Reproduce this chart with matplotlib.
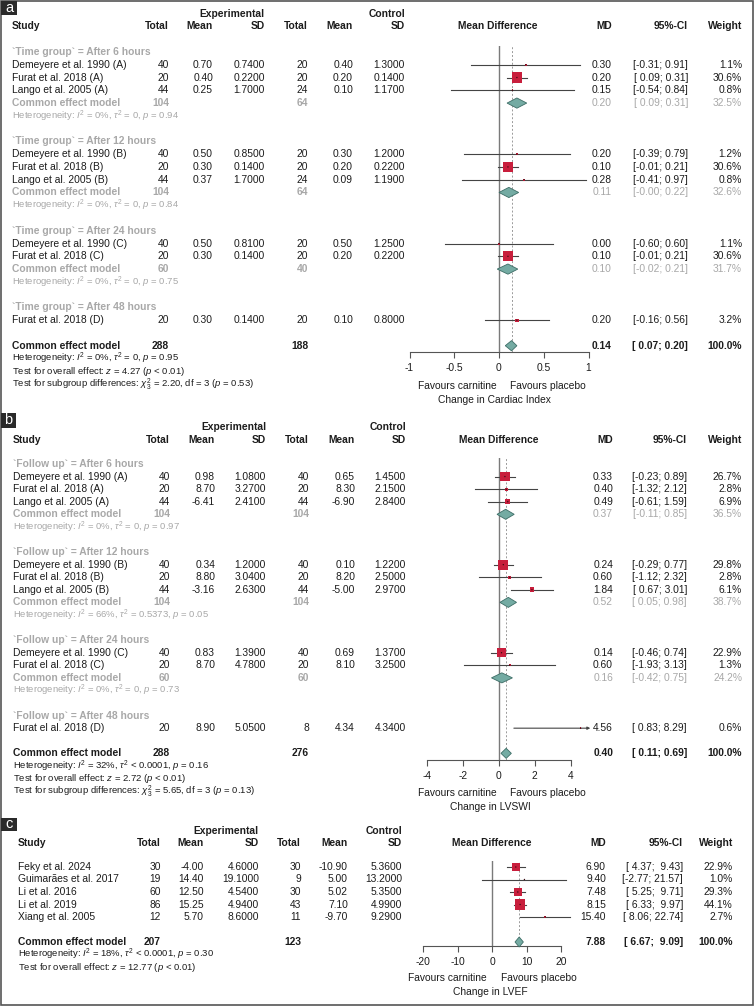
import numpy as np
import matplotlib
matplotlib.use("Agg")
import matplotlib.pyplot as plt
from matplotlib.patches import Polygon, Rectangle

plt.rcParams['font.family'] = ['Liberation Sans', 'DejaVu Sans']
plt.rcParams['mathtext.fontset'] = 'custom'
plt.rcParams['mathtext.rm'] = 'Liberation Sans'
plt.rcParams['mathtext.it'] = 'Liberation Sans:italic'
plt.rcParams['mathtext.bf'] = 'Liberation Sans:bold'
plt.rcParams['axes.unicode_minus'] = False

# ---------------- DATA: panel a (Cardiac Index) ----------------
studies_a = ["Demeyere et al. 1990 (A)", "Furat et al. 2018 (A)", "Lango et al. 2005 (A)",
             "Demeyere et al. 1990 (B)", "Furat et al. 2018 (B)", "Lango et al. 2005 (B)",
             "Demeyere et al. 1990 (C)", "Furat et al. 2018 (C)",
             "Furat et al. 2018 (D)"]
group_a = [0, 0, 0, 1, 1, 1, 2, 2, 3]
groups_a = ["After 6 hours", "After 12 hours", "After 24 hours", "After 48 hours"]
exp_n_a = [40, 20, 44, 40, 20, 44, 40, 20, 20]
exp_mean_a = [0.70, 0.40, 0.25, 0.50, 0.30, 0.37, 0.50, 0.30, 0.30]
exp_sd_a = [0.74, 0.22, 1.70, 0.85, 0.14, 1.70, 0.81, 0.14, 0.14]
ctl_n_a = [20, 20, 24, 20, 20, 24, 20, 20, 20]
ctl_mean_a = [0.40, 0.20, 0.10, 0.30, 0.20, 0.09, 0.50, 0.20, 0.10]
ctl_sd_a = [1.30, 0.14, 1.17, 1.20, 0.22, 1.19, 1.25, 0.22, 0.80]
md_a = [0.30, 0.20, 0.15, 0.20, 0.10, 0.28, 0.00, 0.10, 0.20]
lo_a = [-0.31, 0.09, -0.54, -0.39, -0.01, -0.41, -0.60, -0.01, -0.16]
hi_a = [0.91, 0.31, 0.84, 0.79, 0.21, 0.97, 0.60, 0.21, 0.56]
w_a = [1.1, 30.6, 0.8, 1.2, 30.6, 0.8, 1.1, 30.6, 3.2]
sub_md_a = [0.20, 0.11, 0.10]
sub_lo_a = [0.09, -0.0, -0.02]
sub_hi_a = [0.31, 0.22, 0.21]
sub_w_a = [32.5, 32.6, 31.7]
sub_ne_a = [104, 104, 60]
sub_nc_a = [64, 64, 40]
sub_i2_a = ["0%", "0%", "0%"]
sub_tau_a = ["= 0", "= 0", "= 0"]
sub_p_a = ["0.94", "0.84", "0.75"]
ov_a = dict(md=0.14, lo=0.07, hi=0.20, ne=288, nc=188, i2="0%", tau="= 0", p="0.95",
            z="4.27", zp="< 0.01", chi="2.20", df="3", chip="0.53")

# ---------------- DATA: panel b (LVSWI) ----------------
studies_b = ["Demeyere et al. 1990 (A)", "Furat el al. 2018 (A)", "Lango et al. 2005 (A)",
             "Demeyere et al. 1990 (B)", "Furat el al. 2018 (B)", "Lango et al. 2005 (B)",
             "Demeyere et al. 1990 (C)", "Furat el al. 2018 (C)",
             "Furat el al. 2018 (D)"]
group_b = [0, 0, 0, 1, 1, 1, 2, 2, 3]
groups_b = ["After 6 hours", "After 12 hours", "After 24 hours", "After 48 hours"]
exp_n_b = [40, 20, 44, 40, 20, 44, 40, 20, 20]
exp_mean_b = [0.98, 8.70, -6.41, 0.34, 8.80, -3.16, 0.83, 8.70, 8.90]
exp_sd_b = [1.08, 3.27, 2.41, 1.20, 3.04, 2.63, 1.39, 4.78, 5.05]
ctl_n_b = [40, 20, 44, 40, 20, 44, 40, 20, 8]
ctl_mean_b = [0.65, 8.30, -6.90, 0.10, 8.20, -5.00, 0.69, 8.10, 4.34]
ctl_sd_b = [1.45, 2.15, 2.84, 1.22, 2.50, 2.97, 1.37, 3.25, 4.34]
md_b = [0.33, 0.40, 0.49, 0.24, 0.60, 1.84, 0.14, 0.60, 4.56]
lo_b = [-0.23, -1.32, -0.61, -0.29, -1.12, 0.67, -0.46, -1.93, 0.83]
hi_b = [0.89, 2.12, 1.59, 0.77, 2.32, 3.01, 0.74, 3.13, 8.29]
w_b = [26.7, 2.8, 6.9, 29.8, 2.8, 6.1, 22.9, 1.3, 0.6]
sub_md_b = [0.37, 0.52, 0.16]
sub_lo_b = [-0.11, 0.05, -0.42]
sub_hi_b = [0.85, 0.98, 0.75]
sub_w_b = [36.5, 38.7, 24.2]
sub_ne_b = [104, 104, 60]
sub_nc_b = [104, 104, 60]
sub_i2_b = ["0%", "66%", "0%"]
sub_tau_b = ["= 0", "= 0.5373", "= 0"]
sub_p_b = ["0.97", "0.05", "0.73"]
ov_b = dict(md=0.40, lo=0.11, hi=0.69, ne=288, nc=276, i2="32%", tau="< 0.0001", p="0.16",
            z="2.72", zp="< 0.01", chi="5.65", df="3", chip="0.13")

# ---------------- DATA: panel c (LVEF) ----------------
studies_c = ["Feky et al. 2024", "Guimarães et al. 2017", "Li et al. 2016", "Li et al. 2019",
             "Xiang et al. 2005"]
exp_n_c = [30, 19, 60, 86, 12]
exp_mean_c = [-4.00, 14.40, 12.50, 15.25, 5.70]
exp_sd_c = [4.60, 19.10, 4.54, 4.94, 8.60]
ctl_n_c = [30, 9, 30, 43, 11]
ctl_mean_c = [-10.90, 5.00, 5.02, 7.10, -9.70]
ctl_sd_c = [5.36, 13.20, 5.35, 4.99, 9.29]
md_c = [6.90, 9.40, 7.48, 8.15, 15.40]
lo_c = [4.37, -2.77, 5.25, 6.33, 8.06]
hi_c = [9.43, 21.57, 9.71, 9.97, 22.74]
w_c = [22.9, 1.0, 29.3, 44.1, 2.7]
ov_c = dict(md=7.88, lo=6.67, hi=9.09, ne=207, nc=123, i2="18%", tau="< 0.0001", p="0.30",
            z="12.77", zp="< 0.01")

ticks_a = [-1, -0.5, 0, 0.5, 1]
ticks_b = [-4, -2, 0, 2, 4]
ticks_c = [-20, -10, 0, 10, 20]

# ---------------- STYLE / LAYOUT ----------------
W, H = 756, 1007
BLACK = '#1c1c1c'
GRAY = '#a8a8a8'
SQ = '#c81e3c'
DIA = '#74aba3'
DIAE = '#3d6d66'
FS = 7.4
FSH = 6.8

fig = plt.figure(figsize=(W / 100, H / 100), dpi=100)
bg = fig.add_axes([0, 0, 1, 1])
bg.set_xlim(0, W)
bg.set_ylim(H, 0)
bg.axis('off')


def txt(x, y, s, ha='right', bold=False, color=BLACK, fs=FS):
    bg.text(x, y, s, ha=ha, va='center', fontsize=fs,
            fontweight='bold' if bold else 'normal', color=color)


def ci_str(lo, hi, whi=4):
    return "[{:5.2f}; {:{w}.2f}]".format(lo, hi, w=whi)


def het_str(i2, tau, p):
    return r"Heterogeneity: $I^2$ = " + i2 + r", $\tau^2$ " + tau + r", $p$ = " + p


def panel(P):
    c = P['cols']
    y0, dy = P['y0'], P['dy']
    yp = lambda r: y0 + r * dy
    # panel label
    lx, ly, lw_, lh = P['labbox']
    bg.add_patch(Rectangle((lx, ly), lw_, lh, fc='#2a2a2a', ec='none', zorder=5))
    bg.text(lx + lw_ / 2, ly + lh / 2 - 0.5, P['label'], color='white', fontsize=10.5,
            ha='center', va='center', zorder=6)
    # headers
    txt(c['esd'], P['h1'], 'Experimental', bold=True)
    txt(c['csd'], P['h1'], 'Control', bold=True)
    txt(c['study'], P['h2'], 'Study', ha='left', bold=True)
    for key, lab in [('en', 'Total'), ('em', 'Mean'), ('esd', 'SD'), ('cn', 'Total'),
                     ('cm', 'Mean'), ('csd', 'SD'), ('md', 'MD'), ('ci', '95%-CI'), ('w', 'Weight')]:
        txt(c[key], P['h2'], lab, bold=True)
    txt(c['mdc'], P['h2'], 'Mean Difference', ha='center', bold=True)

    D = P['data']
    n = len(D['studies'])
    whi = P.get('whi', 4)
    rows = []
    if P.get('groups') is not None:
        for g, gname in enumerate(P['groups']):
            idx = [i for i in range(n) if D['group'][i] == g]
            rows.append(('head', g))
            for i in idx:
                rows.append(('study', i))
            if len(idx) > 1:
                rows.append(('sub', g))
                rows.append(('het', g))
            rows.append(('blank', None))
    else:
        for i in range(n):
            rows.append(('study', i))
        rows.append(('blank', None))
    rows.append(('overall', None))
    rows.append(('ohet', None))
    rows.append(('otest', None))
    if P.get('groups') is not None:
        rows.append(('osub', None))

    # forest axes
    p0, s = P['p0'], P['scale']
    xmin, xmax = P['xlim']
    xl, xr = p0 + xmin * s, p0 + xmax * s
    yt, yb = yp(-0.5), yp(P['axis_row'])
    ax = fig.add_axes([xl / W, 1 - yb / H, (xr - xl) / W, (yb - yt) / H])
    ax.set_xlim(xmin, xmax)
    ax.set_ylim(P['axis_row'], -0.5)
    ax.patch.set_alpha(0)
    for sp in ['top', 'left', 'right']:
        ax.spines[sp].set_visible(False)
    ax.spines['bottom'].set_color('#555555')
    ax.spines['bottom'].set_linewidth(0.8)
    ax.set_yticks([])
    ax.set_xticks(P['ticks'])
    ax.set_xticklabels([("%g" % t) for t in P['ticks']])
    ax.tick_params(axis='x', direction='out', length=4.5, width=0.8, colors='#555555',
                   labelcolor=BLACK, labelsize=FS, pad=3.5)
    ax.axvline(0, color='#7a7a7a', lw=1.0, zorder=1)
    ov = P['ov']
    ax.axvline(ov['md'], color='#9a9a9a', lw=0.7, ls=(0, (2, 2)), zorder=1)

    wmax = max(D['w'])
    srows, smd, slo, shi, sw = [], [], [], [], []
    for r, (kind, k) in enumerate(rows):
        y = yp(r)
        if kind == 'head':
            txt(c['study'], y, P['gprefix'] + P['groups'][k], ha='left', bold=True, color=GRAY)
        elif kind == 'study':
            i = k
            txt(c['study'], y, D['studies'][i], ha='left')
            txt(c['en'], y, "%d" % D['en'][i])
            txt(c['em'], y, "%.2f" % D['em'][i])
            txt(c['esd'], y, "%.4f" % D['esd'][i])
            txt(c['cn'], y, "%d" % D['cn'][i])
            txt(c['cm'], y, "%.2f" % D['cm'][i])
            txt(c['csd'], y, "%.4f" % D['csd'][i])
            txt(c['md'], y, "%.2f" % D['md'][i])
            txt(c['ci'], y, ci_str(D['lo'][i], D['hi'][i], whi))
            txt(c['w'], y, "%.1f%%" % D['w'][i])
            srows.append(r); smd.append(D['md'][i]); slo.append(D['lo'][i])
            shi.append(D['hi'][i]); sw.append(D['w'][i])
        elif kind == 'sub':
            S = P['sub']
            txt(c['study'], y, 'Common effect model', ha='left', bold=True, color=GRAY)
            txt(c['en'], y, "%d" % S['ne'][k], bold=True, color=GRAY)
            txt(c['cn'], y, "%d" % S['nc'][k], bold=True, color=GRAY)
            txt(c['md'], y, "%.2f" % S['md'][k], color=GRAY)
            txt(c['ci'], y, ci_str(S['lo'][k], S['hi'][k], whi), color=GRAY)
            txt(c['w'], y, "%.1f%%" % S['w'][k], color=GRAY)
            m, lo, hi = S['md'][k], S['lo'][k], S['hi'][k]
            ax.add_patch(Polygon([[lo, r], [m, r - 0.4], [hi, r], [m, r + 0.4]], closed=True,
                                 fc=DIA, ec=DIAE, lw=0.6, zorder=3, clip_on=False))
        elif kind == 'het':
            S = P['sub']
            txt(c['study'], y, het_str(S['i2'][k], S['tau'][k], S['p'][k]), ha='left',
                color=GRAY, fs=FSH)
        elif kind == 'overall':
            txt(c['study'], y, 'Common effect model', ha='left', bold=True)
            txt(c['en'], y, "%d" % ov['ne'], bold=True)
            txt(c['cn'], y, "%d" % ov['nc'], bold=True)
            txt(c['md'], y, "%.2f" % ov['md'], bold=True)
            txt(c['ci'], y, ci_str(ov['lo'], ov['hi'], whi), bold=True)
            txt(c['w'], y, "100.0%", bold=True)
            m, lo, hi = ov['md'], ov['lo'], ov['hi']
            ax.add_patch(Polygon([[lo, r], [m, r - 0.4], [hi, r], [m, r + 0.4]], closed=True,
                                 fc=DIA, ec=DIAE, lw=0.6, zorder=3, clip_on=False))
        elif kind == 'ohet':
            txt(c['study'], y, het_str(ov['i2'], ov['tau'], ov['p']), ha='left', fs=FSH)
        elif kind == 'otest':
            txt(c['study'], y, r"Test for overall effect: $z$ = " + ov['z'] + r" ($p$ " + ov['zp'] + ")",
                ha='left', fs=FSH)
        elif kind == 'osub':
            txt(c['study'], y, r"Test for subgroup differences: $\chi^2_{" + ov['df'] + "}$ = " + ov['chi'] +
                ", df = " + ov['df'] + r" ($p$ = " + ov['chip'] + ")", ha='left', fs=FSH)

    srows = np.array(srows, float)
    smd, slo, shi, sw = map(np.array, (smd, slo, shi, sw))
    lim = P.get('arrow_lim', None)
    for r, lo, hi in zip(srows, slo, shi):
        if lim is not None and hi > lim:
            ax.annotate('', xy=(lim, r), xytext=(lo, r), annotation_clip=False,
                        arrowprops=dict(arrowstyle='-|>', lw=0.8, color='#444444',
                                        mutation_scale=4, shrinkA=0, shrinkB=0))
        else:
            ax.plot([lo, hi], [r, r], color='#444444', lw=0.8, zorder=2, clip_on=False)
    side = 7.4 * np.sqrt(sw / wmax)
    ax.scatter(smd, srows, s=side ** 2, marker='s', color=SQ, edgecolors='none', zorder=3,
               clip_on=False)
    ax.scatter(smd, srows, s=1.0, marker='o', color='#3a0a10', edgecolors='none', zorder=4,
               clip_on=False)

    # x labels
    txt(p0 + P['fav_off'][0], P['fav_y'], 'Favours carnitine', ha='right')
    txt(p0 + P['fav_off'][1], P['fav_y'], 'Favours placebo', ha='left')
    txt(P['xlab_x'], P['xlab_y'], P['xlab'], ha='center')


cols_a = dict(study=12, en=169, em=213, esd=265, cn=308, cm=353, csd=405,
              mdc=498, md=612, ci=688, w=742)
cols_b = dict(study=13, en=170, em=215, esd=266, cn=309, cm=355, csd=406,
              mdc=499, md=613, ci=687, w=742)
cols_c = dict(study=18, en=161, em=204, esd=259, cn=301, cm=348, csd=402,
              mdc=492, md=606, ci=683, w=733)

panel(dict(label='a', labbox=(1, 1, 16, 14), h1=14, h2=26, y0=52, dy=12.77, axis_row=23.5,
           cols=cols_a, groups=groups_a, gprefix="`Time group` = ",
           data=dict(studies=studies_a, group=group_a, en=exp_n_a, em=exp_mean_a, esd=exp_sd_a,
                     cn=ctl_n_a, cm=ctl_mean_a, csd=ctl_sd_a, md=md_a, lo=lo_a, hi=hi_a, w=w_a),
           sub=dict(md=sub_md_a, lo=sub_lo_a, hi=sub_hi_a, w=sub_w_a, ne=sub_ne_a, nc=sub_nc_a,
                    i2=sub_i2_a, tau=sub_tau_a, p=sub_p_a),
           ov=ov_a, p0=499, scale=89.5, xlim=(-1, 1), ticks=ticks_a,
           fav_off=(-2, 11), fav_y=386, xlab='Change in Cardiac Index', xlab_x=494, xlab_y=400))

panel(dict(label='b', labbox=(1, 413, 15, 15), h1=427, h2=440, y0=464, dy=12.58, axis_row=23.53,
           cols=cols_b, groups=groups_b, gprefix="`Follow up` = ",
           data=dict(studies=studies_b, group=group_b, en=exp_n_b, em=exp_mean_b, esd=exp_sd_b,
                     cn=ctl_n_b, cm=ctl_mean_b, csd=ctl_sd_b, md=md_b, lo=lo_b, hi=hi_b, w=w_b),
           sub=dict(md=sub_md_b, lo=sub_lo_b, hi=sub_hi_b, w=sub_w_b, ne=sub_ne_b, nc=sub_nc_b,
                    i2=sub_i2_b, tau=sub_tau_b, p=sub_p_b),
           ov=ov_b, p0=499, scale=17.9, xlim=(-4, 4), ticks=ticks_b, arrow_lim=5.1,
           fav_off=(-2, 11), fav_y=793, xlab='Change in LVSWI', xlab_x=490, xlab_y=807))

panel(dict(label='c', labbox=(1, 818, 16, 13), h1=831, h2=843, y0=867, dy=12.5, axis_row=6.32,
           cols=cols_c, groups=None, gprefix="", whi=5,
           data=dict(studies=studies_c, en=exp_n_c, em=exp_mean_c, esd=exp_sd_c,
                     cn=ctl_n_c, cm=ctl_mean_c, csd=ctl_sd_c, md=md_c, lo=lo_c, hi=hi_c, w=w_c),
           ov=ov_c, p0=492, scale=3.45, xlim=(-20, 20), ticks=ticks_c,
           fav_off=(-5, 9), fav_y=978, xlab='Change in LVEF', xlab_x=490, xlab_y=992))

bg.add_patch(Rectangle((1, 1), 752, 1004, fill=False, ec='#555555', lw=1.2, zorder=4))

fig.savefig('out.png', dpi=100)
